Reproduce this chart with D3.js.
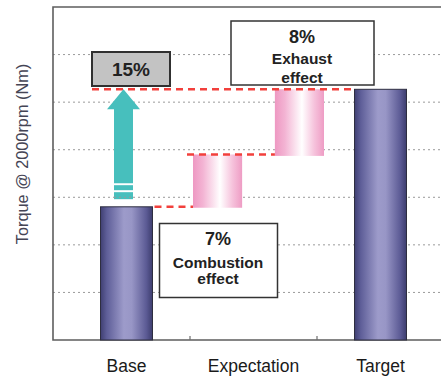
<!DOCTYPE html>
<html><head><meta charset="utf-8">
<script src="https://cdn.jsdelivr.net/npm/d3@7"></script>
<style>html,body{margin:0;padding:0;background:#fff;}svg{display:block;}</style>
</head><body>
<svg id="chart" width="441" height="376"></svg>
<script>
const categories = ["Base", "Expectation", "Target"];
const totalCats = ["Base", "Target"];
const totalValues = [2.80, 5.27];
const stepNames = ["Combustion", "Exhaust"];
const stepStart = [2.78, 3.87];
const stepEnd = [3.90, 5.27];
const gridTicks = [1, 2, 3, 4, 5, 6, 7];
const yDomain = [0, 7];
const arrowFrom = 2.96, arrowTo = 5.27;
const totalLabel = "15%";
const stepLabels = ["7%", "8%"];
const effectLabels = [["Combustion", "effect"], ["Exhaust", "effect"]];
const yTitle = "Torque @ 2000rpm (Nm)";

const svg = d3.select("#chart");
const L = 53, T = 7, B = 340, R = 447;
const y = d3.scaleLinear().domain(yDomain).range([B, T]);
const x = d3.scaleBand().domain(categories).range([63, 444]).paddingInner(0).paddingOuter(0);
const barW = 52;
const exp = x("Expectation");
const xs = d3.scaleBand().domain(stepNames).range([exp + 3, exp + 134]).paddingInner(0.4).paddingOuter(0);

const defs = svg.append("defs");
const gb = defs.append("linearGradient").attr("id", "gBar");
[[0, "#3f3f72"], [0.12, "#5e5e98"], [0.45, "#9d9bca"], [0.6, "#9896c6"], [0.88, "#5c5b95"], [1, "#3d3d6e"]]
  .forEach(([o, c]) => gb.append("stop").attr("offset", o).attr("stop-color", c));
const gp = defs.append("linearGradient").attr("id", "gPink");
[[0, "#ee98c2"], [0.2, "#f3b3d3"], [0.55, "#ffffff"], [0.8, "#f6c3dc"], [1, "#ee9cc4"]]
  .forEach(([o, c]) => gp.append("stop").attr("offset", o).attr("stop-color", c));

// gridlines
svg.append("g").selectAll("line").data(gridTicks.slice(0, -1)).join("line")
  .attr("x1", L).attr("x2", R).attr("y1", d => y(d)).attr("y2", d => y(d))
  .attr("stroke", "#9a9a9a").attr("stroke-width", 1).attr("stroke-dasharray", "2,3");

// frame
svg.append("path").attr("d", `M${R},${T}H${L}V${B}H${R}`).attr("fill", "none")
  .attr("stroke", "#5e5e5e").attr("stroke-width", 1.6);
// category boundary ticks
svg.append("g").selectAll("line").data(categories.slice(1)).join("line")
  .attr("x1", d => x(d)).attr("x2", d => x(d)).attr("y1", B).attr("y2", B - 4)
  .attr("stroke", "#6e6e6e").attr("stroke-width", 1.2);

// total bars
svg.append("g").selectAll("rect").data(totalCats).join("rect")
  .attr("x", d => x(d) + x.bandwidth() / 2 - barW / 2)
  .attr("width", barW)
  .attr("y", (d, i) => y(totalValues[i]))
  .attr("height", (d, i) => y(0) - y(totalValues[i]))
  .attr("fill", "url(#gBar)").attr("stroke", "#2e2e40").attr("stroke-width", 1);

// step bars
svg.append("g").selectAll("rect").data(stepNames).join("rect")
  .attr("x", d => xs(d)).attr("width", xs.bandwidth())
  .attr("y", (d, i) => y(stepEnd[i]))
  .attr("height", (d, i) => y(stepStart[i]) - y(stepEnd[i]))
  .attr("fill", "url(#gPink)");

// red dashed connectors
const baseRight = x("Base") + x.bandwidth() / 2 + barW / 2;
const targetLeft = x("Target") + x.bandwidth() / 2 - barW / 2;
const conns = [
  [baseRight + 2, xs("Combustion"), y(totalValues[0])],
  [xs("Combustion") - 6, xs("Exhaust"), y(stepEnd[0])],
  [92, targetLeft - 2, y(totalValues[1])]
];
svg.append("g").selectAll("line").data(conns).join("line")
  .attr("x1", d => d[0]).attr("x2", d => d[1]).attr("y1", d => d[2]).attr("y2", d => d[2])
  .attr("stroke", "#f2403c").attr("stroke-width", 2.5).attr("stroke-dasharray", "7,5");

// teal arrow
const ax = x("Base") + x.bandwidth() / 2 - 3;
const tip = y(arrowTo), bot = y(arrowFrom);
const headBase = tip + 20;
const sw = 9.5, hw = 16.5;
const shaftEnd = bot - 16;
const teal = "#47bfbd";
svg.append("path")
  .attr("d", `M${ax},${tip}L${ax + hw},${headBase}L${ax + sw},${headBase}L${ax + sw},${shaftEnd}L${ax - sw},${shaftEnd}L${ax - sw},${headBase}L${ax - hw},${headBase}Z`)
  .attr("fill", teal);
svg.append("rect").attr("x", ax - sw).attr("width", sw * 2).attr("y", shaftEnd + 2).attr("height", 5).attr("fill", teal);
svg.append("rect").attr("x", ax - sw).attr("width", sw * 2).attr("y", shaftEnd + 9).attr("height", 7).attr("fill", teal);
svg.append("line").attr("x1", ax - sw).attr("x2", ax + sw).attr("y1", y(3)).attr("y2", y(3))
  .attr("stroke", "#9a9a9a").attr("stroke-dasharray", "2,3");

// annotation boxes
const font = "'Liberation Sans', Arial, sans-serif";
svg.append("rect").attr("x", 92).attr("y", 52).attr("width", 78).attr("height", 34)
  .attr("fill", "#c3c3c3").attr("stroke", "#303030").attr("stroke-width", 2);
svg.append("text").attr("x", 131).attr("y", 76).attr("text-anchor", "middle")
  .attr("font-family", font).attr("font-weight", "bold").attr("font-size", 19)
  .attr("fill", "#222").text(totalLabel);

svg.append("rect").attr("x", 231).attr("y", 21).attr("width", 143).attr("height", 64)
  .attr("fill", "#fff").attr("stroke", "#333").attr("stroke-width", 1.5);
svg.append("rect").attr("x", 159.5).attr("y", 223.5).attr("width", 118).attr("height", 74)
  .attr("fill", "#fff").attr("stroke", "#333").attr("stroke-width", 1.5);

const boxes = [
  { cx: 218, lines: [[stepLabels[0], 245, 18], [effectLabels[0][0], 268, 15.5], [effectLabels[0][1], 284, 15.5]] },
  { cx: 302, lines: [[stepLabels[1], 43, 18], [effectLabels[1][0], 64, 15.5], [effectLabels[1][1], 83, 15.5]] }
];
boxes.forEach(b => {
  b.lines.forEach(([t, yy, fs]) => {
    svg.append("text").attr("x", b.cx).attr("y", yy).attr("text-anchor", "middle")
      .attr("font-family", font).attr("font-weight", "bold").attr("font-size", fs)
      .attr("fill", "#222").text(t);
  });
});

// category labels
svg.append("g").selectAll("text").data(categories).join("text")
  .attr("x", d => x(d) + x.bandwidth() / 2).attr("y", 372)
  .attr("text-anchor", "middle").attr("font-family", font).attr("font-size", 17.5)
  .attr("fill", "#1a1a1a").text(d => d);

// y title
svg.append("text").attr("transform", "translate(28,154) rotate(-90)")
  .attr("text-anchor", "middle").attr("font-family", font).attr("font-size", 16.3)
  .attr("fill", "#454555").text(yTitle);
</script>
</body></html>
